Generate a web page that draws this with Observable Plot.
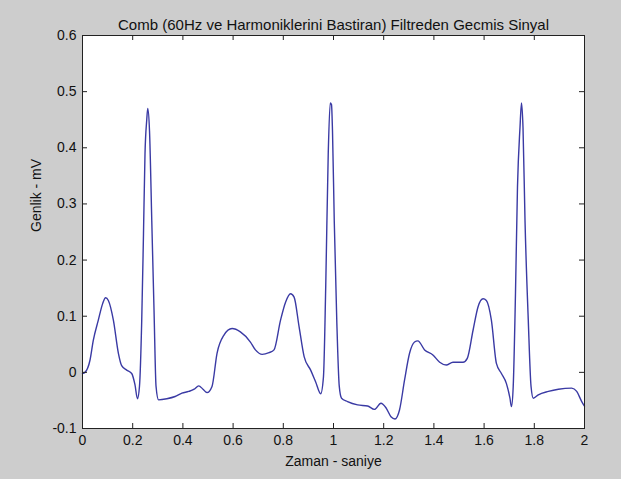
<!DOCTYPE html>
<html><head><meta charset="utf-8">
<script src="https://cdn.jsdelivr.net/npm/d3@7"></script>
<script src="https://cdn.jsdelivr.net/npm/@observablehq/plot@0.6"></script>
<style>
html,body{margin:0;padding:0;background:#cdcdcd;}
#chart svg{display:block;}
</style></head><body><div id="chart"></div>
<script>
const time = [0, 0.01, 0.03, 0.043, 0.063, 0.08, 0.092, 0.103, 0.123, 0.143, 0.156, 0.176, 0.196, 0.209, 0.219, 0.227, 0.236, 0.243, 0.249, 0.256, 0.26, 0.267, 0.276, 0.285, 0.293, 0.303, 0.336, 0.369, 0.396, 0.423, 0.445, 0.463, 0.48, 0.496, 0.516, 0.536, 0.563, 0.596, 0.629, 0.669, 0.689, 0.716, 0.743, 0.763, 0.789, 0.809, 0.829, 0.843, 0.863, 0.883, 0.909, 0.929, 0.949, 0.96, 0.969, 0.979, 0.987, 0.992, 0.996, 1.003, 1.013, 1.023, 1.032, 1.056, 1.096, 1.136, 1.163, 1.189, 1.209, 1.229, 1.245, 1.263, 1.283, 1.303, 1.323, 1.336, 1.363, 1.396, 1.423, 1.449, 1.476, 1.516, 1.533, 1.556, 1.576, 1.596, 1.609, 1.629, 1.649, 1.669, 1.689, 1.703, 1.709, 1.716, 1.725, 1.733, 1.743, 1.749, 1.755, 1.763, 1.776, 1.787, 1.796, 1.816, 1.856, 1.896, 1.949, 1.969, 1.989, 2.0];
const amplitude = [-0.002, 0.0, 0.022, 0.057, 0.093, 0.122, 0.133, 0.128, 0.093, 0.034, 0.012, 0.004, -0.002, -0.022, -0.047, -0.025, 0.093, 0.247, 0.389, 0.45, 0.47, 0.43, 0.27, 0.11, -0.025, -0.049, -0.047, -0.043, -0.037, -0.034, -0.03, -0.024, -0.03, -0.036, -0.025, 0.034, 0.066, 0.078, 0.072, 0.054, 0.04, 0.032, 0.035, 0.04, 0.093, 0.125, 0.14, 0.134, 0.081, 0.028, 0.004, -0.017, -0.038, -0.008, 0.152, 0.389, 0.48, 0.477, 0.43, 0.27, 0.093, -0.025, -0.046, -0.052, -0.058, -0.06, -0.066, -0.055, -0.063, -0.079, -0.083, -0.067, -0.014, 0.034, 0.054, 0.056, 0.04, 0.031, 0.018, 0.013, 0.018, 0.018, 0.025, 0.075, 0.117, 0.131, 0.128, 0.093, 0.016, -0.002, -0.02, -0.046, -0.061, -0.025, 0.14, 0.33, 0.436, 0.48, 0.436, 0.27, 0.093, -0.025, -0.046, -0.04, -0.034, -0.03, -0.028, -0.034, -0.052, -0.06];
const xTicks = [0, 0.2, 0.4, 0.6, 0.8, 1, 1.2, 1.4, 1.6, 1.8, 2];
const xTickLabels = ["0", "0.2", "0.4", "0.6", "0.8", "1", "1.2", "1.4", "1.6", "1.8", "2"];
const yTicks = [-0.1, 0, 0.1, 0.2, 0.3, 0.4, 0.5, 0.6];
const yTickLabels = ["-0.1", "0", "0.1", "0.2", "0.3", "0.4", "0.5", "0.6"];
const titleText = "Comb (60Hz ve Harmoniklerini Bastiran) Filtreden Gecmis Sinyal";
const xLabel = "Zaman - saniye";
const yLabel = "Genlik - mV";

const data = time.map((t, i) => ({t, v: amplitude[i]}));
const lookup = (ticks, labels) => d => labels[ticks.findIndex(k => Math.abs(k - d) < 1e-9)];

const W = 621, H = 479, ML = 82, MR = 37, MT = 35, MB = 51;
const PW = W - ML - MR, PH = H - MT - MB;
const font = "'Liberation Sans', Arial, sans-serif";

const chart = Plot.plot({
  width: W, height: H,
  marginLeft: ML, marginRight: MR, marginTop: MT, marginBottom: MB,
  style: {background: "transparent", fontFamily: font, fontSize: "14px", color: "#111"},
  x: {domain: [0, 2]},
  y: {domain: [-0.1, 0.6]},
  marks: [
    Plot.frame({fill: "white"}),
    Plot.line(data, {x: "t", y: "v", stroke: "#3a3aa4", strokeWidth: 1.4, curve: "monotone-x"}),
    Plot.ruleX(xTicks, {x: d => d, insetTop: PH - 5, stroke: "#222"}),
    Plot.ruleX(xTicks, {x: d => d, insetBottom: PH - 5, stroke: "#222"}),
    Plot.ruleY(yTicks, {y: d => d, insetRight: PW - 5, stroke: "#222"}),
    Plot.ruleY(yTicks, {y: d => d, insetLeft: PW - 5, stroke: "#222"}),
    Plot.frame({stroke: "#222"}),
    Plot.axisX(xTicks, {anchor: "bottom", tickSize: 0, tickPadding: 7, tickFormat: lookup(xTicks, xTickLabels), label: null, fontSize: 14}),
    Plot.axisY(yTicks, {anchor: "left", tickSize: 0, tickPadding: 6, tickFormat: lookup(yTicks, yTickLabels), label: null, fontSize: 14}),
    Plot.text([titleText], {text: d => d, frameAnchor: "top", dy: -16, fontSize: 15, fill: "#111"}),
    Plot.text([xLabel], {text: d => d, frameAnchor: "bottom", dy: 37, fontSize: 14, fill: "#111"}),
    Plot.text([yLabel], {text: d => d, frameAnchor: "left", dx: -46, rotate: -90, fontSize: 14, fill: "#111"})
  ]
});
document.getElementById("chart").appendChild(chart);
</script>
</body></html>
